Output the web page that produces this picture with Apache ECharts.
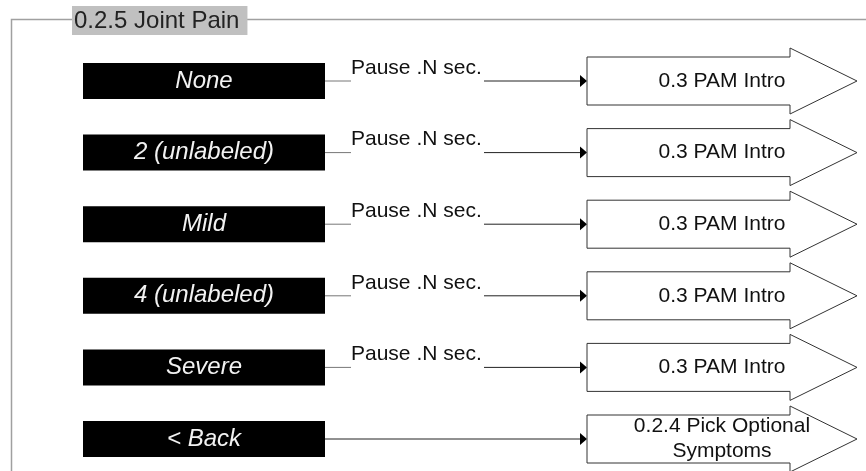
<!DOCTYPE html>
<html>
<head>
<meta charset="utf-8">
<script src="https://cdn.jsdelivr.net/npm/echarts@6/dist/echarts.min.js"></script>
<style>
  html, body { margin: 0; padding: 0; background: #fff; }
  #chart { width: 866px; height: 471px; }
</style>
</head>
<body>
<div id="chart"></div>
<script>
// ---- data ----
const titleText = '0.2.5 Joint Pain';
const optionLabels = ['None', '2 (unlabeled)', 'Mild', '4 (unlabeled)', 'Severe', '< Back'];
const connectorLabels = ['Pause .N sec.', 'Pause .N sec.', 'Pause .N sec.', 'Pause .N sec.', 'Pause .N sec.', ''];
const targetLabels = ['0.3 PAM Intro', '0.3 PAM Intro', '0.3 PAM Intro', '0.3 PAM Intro', '0.3 PAM Intro', '0.2.4 Pick Optional\nSymptoms'];

const FONT = '"Liberation Sans", Arial, Helvetica, sans-serif';
const chart = echarts.init(document.getElementById('chart'), null, { renderer: 'canvas' });

function renderRow(params, api) {
  const i = api.value(1);
  const cy = api.coord([0, i])[1];
  const x0 = api.coord([83, i])[0];
  const x1 = api.coord([325, i])[0];
  const txtX = api.coord([351, i])[0];
  const lineStart = api.coord([484, i])[0];
  const headX = api.coord([587, i])[0];
  const bodyR = api.coord([790, i])[0];
  const tipX = api.coord([857, i])[0];
  const centerT = api.coord([722, i])[0];
  const conn = connectorLabels[i];
  const children = [];
  // black option box
  children.push({ type: 'rect', shape: { x: x0, y: cy - 18, width: x1 - x0, height: 36 }, style: { fill: '#000' } });
  children.push({ type: 'text', style: { text: optionLabels[i], x: (x0 + x1) / 2, y: cy, fill: '#f2f2f2',
    font: 'italic 24px ' + FONT, textAlign: 'center', textVerticalAlign: 'middle', align: 'center', verticalAlign: 'middle' } });
  // connector
  if (conn) {
    children.push({ type: 'line', shape: { x1: x1, y1: cy, x2: txtX, y2: cy }, style: { stroke: '#777', lineWidth: 1 } });
    children.push({ type: 'text', style: { text: conn, x: txtX, y: cy - 13, fill: '#111',
      font: '21px ' + FONT, textAlign: 'left', textVerticalAlign: 'middle', align: 'left', verticalAlign: 'middle' } });
    children.push({ type: 'line', shape: { x1: lineStart, y1: cy, x2: headX - 6, y2: cy }, style: { stroke: '#222', lineWidth: 1 } });
  } else {
    children.push({ type: 'line', shape: { x1: x1, y1: cy, x2: headX - 6, y2: cy }, style: { stroke: '#222', lineWidth: 1 } });
  }
  // arrow head
  children.push({ type: 'polygon', shape: { points: [[headX - 7, cy - 6], [headX, cy], [headX - 7, cy + 6]] }, style: { fill: '#000' } });
  // target block arrow
  children.push({ type: 'polygon', shape: { points: [
    [headX, cy - 24], [bodyR, cy - 24], [bodyR, cy - 33], [tipX, cy], [bodyR, cy + 33], [bodyR, cy + 24], [headX, cy + 24]
  ] }, style: { fill: '#fff', stroke: '#333', lineWidth: 1 } });
  children.push({ type: 'text', style: { text: targetLabels[i], x: centerT, y: cy, fill: '#111',
    font: '21px ' + FONT, lineHeight: 25, textAlign: 'center', textVerticalAlign: 'middle', align: 'center', verticalAlign: 'middle' } });
  return { type: 'group', children: children };
}

const option = {
  animation: false,
  backgroundColor: '#fff',
  title: {
    text: titleText,
    left: 72, top: 6,
    padding: [3, 8, 2, 2],
    backgroundColor: '#c0c0c0',
    z: 10,
    textStyle: { fontFamily: FONT, fontSize: 24, fontWeight: 'normal', color: '#222' }
  },
  graphic: [{
    type: 'polyline', z: 0, silent: true,
    shape: { points: [[866, 19.5], [11.5, 19.5], [11.5, 471]] },
    style: { stroke: '#a0a0a0', lineWidth: 1.5, fill: null }
  }],
  grid: { left: 0, right: 0, top: 81, bottom: 32 },
  xAxis: { type: 'value', min: 0, max: 866, show: false },
  yAxis: { type: 'category', data: optionLabels, inverse: true, boundaryGap: false, show: false },
  series: [{
    type: 'custom',
    clip: false,
    renderItem: renderRow,
    encode: { x: 0, y: 1 },
    data: optionLabels.map((l, i) => [0, i])
  }]
};
chart.setOption(option);
</script>
</body>
</html>
